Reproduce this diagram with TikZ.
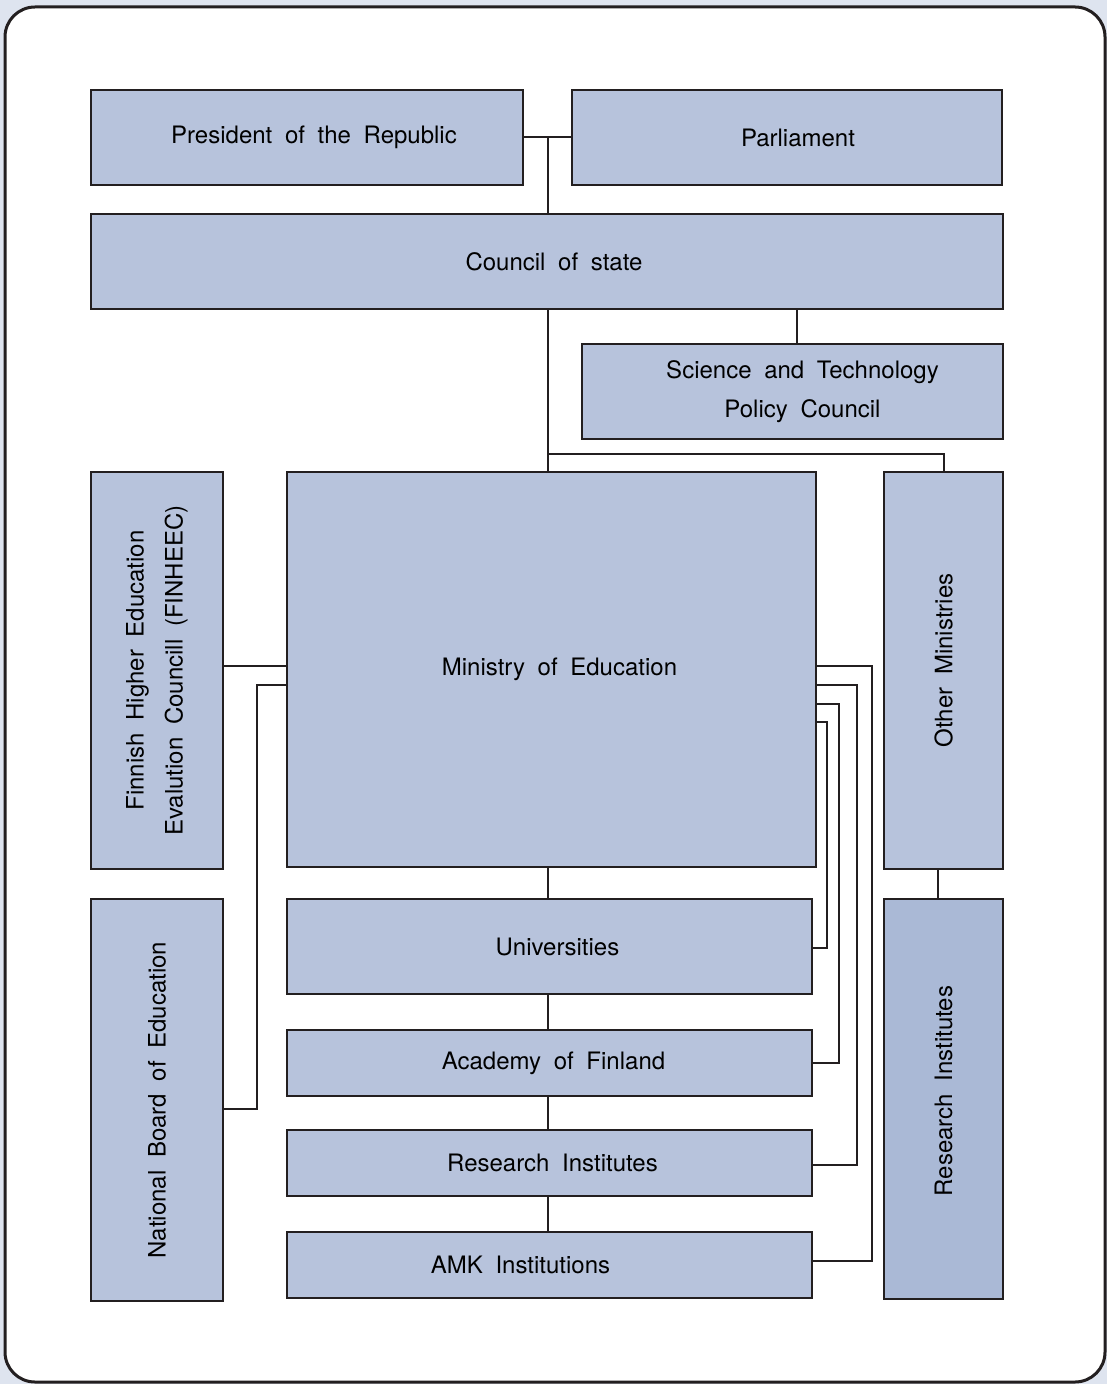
\documentclass[tikz,border=0pt]{standalone}
\usepackage{fontspec}
\setmainfont[WordSpace=1.9]{TeX Gyre Heros}
\usetikzlibrary{calc}

\definecolor{boxblue}{RGB}{183,195,220}
\definecolor{boxdark}{RGB}{170,185,214}
\definecolor{pageback}{RGB}{222,228,239}
\definecolor{linegray}{RGB}{35,31,32}

\begin{document}
\begin{tikzpicture}[x=0.5pt, y=-0.5pt,
    orgbox/.style={draw=linegray, line width=1.2pt, fill=boxblue, inner sep=0pt, outer sep=0pt,
      font=\fontsize{12}{19.5}\selectfont, align=center},
    link/.style={draw=linegray, line width=1pt}]

    % Page background and frame
    \fill[pageback] (0,0) rectangle (1107,1384);
    \draw[linegray, line width=1.5pt, fill=white, rounded corners=15pt] (5,7) rectangle (1105,1382);

    % Top level
    \node[orgbox, minimum width=216pt, minimum height=47.5pt] (pres) at (307,137.5) {\hspace*{7pt}President of the Republic};
    \node[orgbox, minimum width=215pt, minimum height=47.5pt] (parl) at (787,137.5) {\hspace*{11pt}Parliament};
    \node[orgbox, minimum width=456pt, minimum height=47.5pt] (council) at (547,261.5) {\hspace*{7pt}Council of state};
    \node[orgbox, minimum width=210.5pt, minimum height=47.5pt] (sci) at (792.5,391.5)
        {\hspace*{10pt}Science and Technology\\\hspace*{10pt}Policy Council};

    % Ministry level
    \node[orgbox, rotate=90, minimum width=198.5pt, minimum height=66pt] (fin) at (157,670.5)
        {Finnish Higher Education\\Evalution Councill (FINHEEC)};
    \node[orgbox, minimum width=264.5pt, minimum height=197.5pt] (min) at (551.5,669.5) {\hspace*{8pt}Ministry of Education};
    \node[orgbox, rotate=90, minimum width=198.5pt, minimum height=59.5pt] (other) at (943.5,670.5) {\hspace*{10pt}Other Ministries};

    % Lower level
    \node[orgbox, rotate=90, minimum width=201pt, minimum height=66pt] (nbe) at (157,1100) {National Board of Education};
    \node[orgbox, minimum width=262.5pt, minimum height=47.5pt] (uni) at (549.5,946.5) {\hspace*{8pt}Universities};
    \node[orgbox, minimum width=262.5pt, minimum height=33pt] (acad) at (549.5,1063) {\hspace*{4pt}Academy of Finland};
    \node[orgbox, minimum width=262.5pt, minimum height=33pt] (ri) at (549.5,1163) {\hspace*{3pt}Research Institutes};
    \node[orgbox, minimum width=262.5pt, minimum height=33pt] (amk) at (549.5,1265) {AMK Institutions\hspace*{29pt}};
    \node[orgbox, fill=boxdark, rotate=90, minimum width=200pt, minimum height=59.5pt] (rir) at (943.5,1099)
        {\hspace*{8pt}Research Institutes};

    % Connectors at the top
    \coordinate (join) at ($(pres.east)!0.5!(parl.west)$);
    \draw[link] (pres.east) -- (parl.west);
    \draw[link] (join) -- (join |- council.north);
    \draw[link] ([xshift=2.25pt]council.south -| sci) -- ([xshift=2.25pt]sci.north);

    % Spine from the council down
    \coordinate (branch) at (548,454);
    \draw[link] (council.south -| branch) -- (min.north -| branch);
    \draw[link] (branch) -| (other.east);

    % Left side
    \draw[link] ($(min.west)+(0,-3.5)$) -- (fin.south |- {$(min.west)+(0,-3.5)$});
    \draw[link] ($(min.west)+(0,15)$) -- ++(-30,0) |- ([yshift=-4.5pt]nbe.south);

    % Chain under the ministry
    \draw[link] (min.south -| branch) -- (uni.north -| branch);
    \draw[link] (uni.south -| branch) -- (acad.north -| branch);
    \draw[link] (acad.south -| branch) -- (ri.north -| branch);
    \draw[link] (ri.south -| branch) -- (amk.north -| branch);

    % Right side
    \draw[link] ($(min.east)+(0,-4)$) -- ++(56,0) |- ([yshift=2pt]amk.east);
    \draw[link] ($(min.east)+(0,15)$) -- ++(41,0) |- ([yshift=-1pt]ri.east);
    \draw[link] ($(min.east)+(0,34)$) -- ++(23,0) |- (acad.east);
    \draw[link] ($(min.east)+(0,52.5)$) -- ++(11,0) |- ([yshift=-0.75pt]uni.east);
    \draw[link] ([xshift=-2.75pt]other.west) -- ([xshift=-2.75pt]rir.east);

\end{tikzpicture}
\end{document}
